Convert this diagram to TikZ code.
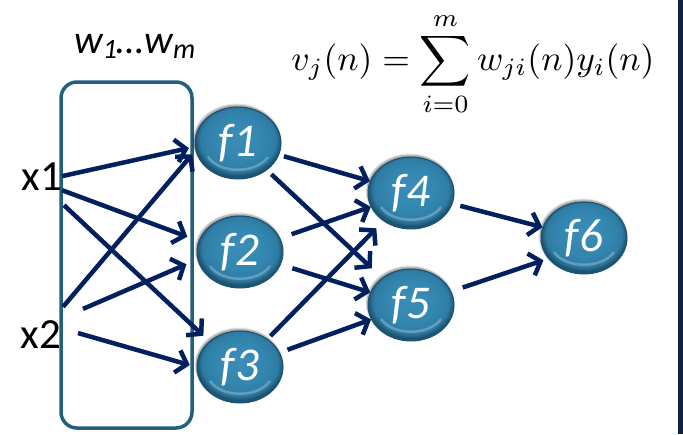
\documentclass[tikz,border=0pt]{standalone}
\usepackage[no-math]{fontspec}
\setmainfont{Carlito}
\usepackage{graphicx}
\usetikzlibrary{arrows.meta,calc,shapes.geometric,shadows.blur}
\definecolor{arrownavy}{HTML}{03205E}
\definecolor{boxteal}{HTML}{22607E}
\definecolor{ballmid}{HTML}{3386B0}
\definecolor{balledge}{HTML}{1B5371}
\definecolor{ballhigh}{HTML}{6BB9DE}
\definecolor{barnavy}{HTML}{0D2240}
\pgfdeclareradialshading{fball}{\pgfpoint{0bp}{4bp}}{color(0bp)=(ballmid!85!ballhigh);
  color(15bp)=(ballmid); color(22bp)=(ballmid!80!balledge); color(25bp)=(balledge);
  color(50bp)=(balledge)}
\newcommand{\wsub}[1]{\raisebox{-5pt}{\fontsize{28}{30}\selectfont #1}}

\begin{document}
\begin{tikzpicture}[x=1pt,y=-1pt,>={Straight Barb[length=10pt,width=23pt]},
  conn/.style={->,arrownavy,line width=4.5pt},
  xlab/.style={inner sep=0pt,font=\fontsize{43}{50}\selectfont},
  fnode/.style={ellipse,minimum width=86pt,minimum height=72pt,inner sep=0pt,
    shading=fball,draw=balledge,line width=1pt,text=white,
    font=\fontsize{47}{52}\selectfont\itshape,
    path picture={\draw[white,opacity=0.25,line width=2.5pt]
      ([xshift=-30pt,yshift=-14pt]path picture bounding box.center)
      .. controls ([xshift=-18pt,yshift=-31pt]path picture bounding box.center)
      and ([xshift=18pt,yshift=-31pt]path picture bounding box.center) ..
      ([xshift=30pt,yshift=-14pt]path picture bounding box.center);},
    blur shadow={shadow xshift=-1pt,shadow yshift=2pt,shadow blur steps=6,shadow opacity=45}}]
  \useasboundingbox (0,0) rectangle (683,434);
  \fill[barnavy] (678,0) rectangle (683,434);

  \node[inner sep=0pt,anchor=base west] (wlabel) at (74,53)
    {\fontsize{40}{48}\selectfont\itshape w\wsub{1}…w\wsub{m}};
  \node (sumeq) at (473,64)
    {\scalebox{3.55}{$\displaystyle v_j(n)=\sum_{i=0}^{m}w_{ji}(n)y_i(n)$}};

  \node[draw=boxteal,line width=3.5pt,rounded corners=16pt,
    minimum width=131pt,minimum height=346pt] (wbox) at (126.5,255) {};

  \node[xlab,anchor=base east] (x1) at (62,190) {x1};
  \node[xlab,anchor=base east] (x2) at (61,348) {x2};

  \node[fnode] (f1) at (238,143) {f1};
  \node[fnode] (f2) at (240,252) {f2};
  \node[fnode] (f3) at (240,367) {f3};
  \node[fnode] (f4) at (411,193) {f4};
  \node[fnode] (f5) at (411,305) {f5};
  \node[fnode] (f6) at (584,238) {f6};

  \draw[conn,shorten >=6pt] (x1.east) -- (f1.185);
  \draw[conn,shorten >=12pt] (x1.south east) -- (f2.165);
  \draw[conn,shorten >=8pt] ($(x1.south east)+(2,15)$) -- (f3.140);
  \draw[conn,shorten >=5pt] ($(x2.north east)+(2,-13)$) -- (f1.190);
  \draw[conn,shorten >=12pt] ($(x2.north east)+(22,-11)$) -- (f2.190);
  \draw[conn,shorten >=7pt] ($(x2.east)+(17,-1)$) -- (f3.west);

  \draw[conn,shorten <=5pt] (f1) -- (f4);
  \draw[conn,shorten <=6pt,shorten >=14pt] (f1) -- (f5);
  \draw[conn,shorten <=12pt] (f2) -- (f4);
  \draw[conn,shorten <=12pt] (f2) -- (f5);
  \draw[conn,shorten <=4pt,shorten >=10pt] (f3) -- (f4);
  \draw[conn,shorten <=8pt] (f3) -- (f5);

  \draw[conn,shorten <=8pt] (f4) -- (f6);
  \draw[conn,shorten <=12pt,shorten >=5pt] (f5) -- (f6.210);
\end{tikzpicture}
\end{document}
